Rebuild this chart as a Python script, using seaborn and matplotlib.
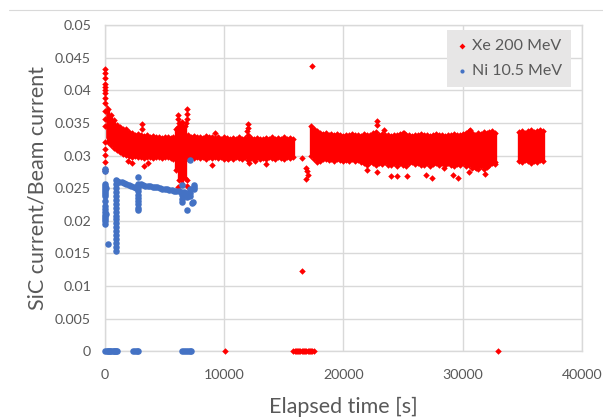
import numpy as np
import pandas as pd
import seaborn as sns
import matplotlib.pyplot as plt
from matplotlib.lines import Line2D

## Xe 200 MeV : envelope of the dense band, read every 250 s (top / bottom)
band_t = [0, 250, 500, 750, 1000, 1250, 1500, 1750, 2000, 2250, 2500, 2750, 3000, 3250, 3500, 3750,
          4000, 4250, 4500, 4750, 5000, 5250, 5500, 5750, 6000, 6250, 6500, 6750, 7000, 7250, 7500, 7750,
          8000, 8250, 8500, 8750, 9000, 9250, 9500, 9750, 10000, 10250, 10500, 10750, 11000, 11250, 11500, 11750,
          12000, 12250, 12500, 12750, 13000, 13250, 13500, 13750, 14000, 14250, 14500, 14750, 15000, 15250, 15500, 15750,
          17250, 17500, 17750, 18000, 18250, 18500, 18750, 19000, 19250, 19500, 19750, 20000, 20250, 20500, 20750,
          21000, 21250, 21500, 21750, 22000, 22250, 22500, 22750, 23000, 23250, 23500, 23750, 24000, 24250, 24500, 24750,
          25000, 25250, 25500, 25750, 26000, 26250, 26500, 26750, 27000, 27250, 27500, 27750, 28000, 28250, 28500, 28750,
          29000, 29250, 29500, 29750, 30000, 30250, 30500, 30750, 31000, 31250, 31500, 31750, 32000, 32250, 32500, 32750,
          34750, 35000, 35250, 35500, 35750, 36000, 36250, 36500, 36750]
band_hi = [0.0376, 0.0371, 0.0362, 0.0354, 0.0347, 0.0343, 0.0341, 0.0337, 0.0336, 0.0334, 0.0332, 0.0333, 0.0331, 0.0330, 0.0331, 0.0329,
           0.0330, 0.0328, 0.0329, 0.0327, 0.0329, 0.0328, 0.0327, 0.0329, 0.0340, 0.0350, 0.0352, 0.0345, 0.0331, 0.0329, 0.0330, 0.0328,
           0.0329, 0.0327, 0.0330, 0.0328, 0.0329, 0.0327, 0.0328, 0.0326, 0.0328, 0.0327, 0.0325, 0.0327, 0.0326, 0.0328, 0.0325, 0.0327,
           0.0332, 0.0327, 0.0325, 0.0327, 0.0326, 0.0325, 0.0327, 0.0326, 0.0328, 0.0325, 0.0327, 0.0326, 0.0328, 0.0325, 0.0327, 0.0326,
           0.0345, 0.0341, 0.0337, 0.0335, 0.0333, 0.0334, 0.0332, 0.0333, 0.0331, 0.0333, 0.0332, 0.0330, 0.0332, 0.0331, 0.0333,
           0.0331, 0.0332, 0.0330, 0.0333, 0.0331, 0.0332, 0.0334, 0.0336, 0.0332, 0.0333, 0.0331, 0.0332, 0.0330, 0.0332, 0.0331, 0.0333,
           0.0334, 0.0331, 0.0332, 0.0330, 0.0332, 0.0331, 0.0333, 0.0331, 0.0332, 0.0330, 0.0332, 0.0333, 0.0331, 0.0332, 0.0330, 0.0332,
           0.0331, 0.0333, 0.0332, 0.0331, 0.0333, 0.0335, 0.0338, 0.0334, 0.0332, 0.0335, 0.0333, 0.0336, 0.0334, 0.0336, 0.0337, 0.0335,
           0.0336, 0.0338, 0.0335, 0.0337, 0.0339, 0.0336, 0.0338, 0.0339, 0.0337]
band_lo = [0.0330, 0.0321, 0.0316, 0.0312, 0.0308, 0.0305, 0.0303, 0.0301, 0.0300, 0.0297, 0.0299, 0.0297, 0.0298, 0.0296, 0.0298, 0.0297,
           0.0296, 0.0298, 0.0297, 0.0296, 0.0298, 0.0297, 0.0296, 0.0295, 0.0278, 0.0262, 0.0256, 0.0266, 0.0294, 0.0297, 0.0296, 0.0298,
           0.0296, 0.0297, 0.0295, 0.0297, 0.0296, 0.0298, 0.0296, 0.0297, 0.0295, 0.0296, 0.0298, 0.0295, 0.0297, 0.0296, 0.0294, 0.0297,
           0.0293, 0.0296, 0.0295, 0.0297, 0.0295, 0.0296, 0.0294, 0.0297, 0.0296, 0.0295, 0.0297, 0.0296, 0.0295, 0.0297, 0.0296, 0.0297,
           0.0300, 0.0294, 0.0290, 0.0292, 0.0294, 0.0295, 0.0293, 0.0294, 0.0292, 0.0294, 0.0293, 0.0291, 0.0293, 0.0292, 0.0294,
           0.0291, 0.0293, 0.0290, 0.0289, 0.0286, 0.0290, 0.0288, 0.0285, 0.0289, 0.0287, 0.0290, 0.0286, 0.0285, 0.0288, 0.0284, 0.0289,
           0.0286, 0.0284, 0.0288, 0.0290, 0.0287, 0.0289, 0.0286, 0.0285, 0.0288, 0.0284, 0.0287, 0.0289, 0.0286, 0.0288, 0.0285, 0.0289,
           0.0286, 0.0284, 0.0287, 0.0285, 0.0288, 0.0284, 0.0286, 0.0281, 0.0283, 0.0280, 0.0284, 0.0279, 0.0283, 0.0285, 0.0288, 0.0287,
           0.0292, 0.0290, 0.0293, 0.0291, 0.0288, 0.0292, 0.0290, 0.0293, 0.0292]

## Xe 200 MeV : single points outside the band
xe_t = [0, 0, 0, 0, 0, 0, 0, 0, 0, 0, 0, 0, 0, 0, 0, 0, 0, 0,
        6100, 6100, 6100, 6850, 6850, 6850, 6800, 6100, 6850, 6900,
        1750, 3100, 3100, 9200, 2250, 3250, 3600, 1900, 9000, 10300, 12100, 12600, 13500, 12000, 12000, 11950,
        16550, 16900, 16950, 17000, 16900, 16550, 17400,
        22800, 22800, 23400, 25100, 30600, 22000, 22800, 24000, 24500, 25300, 26900, 27400, 29200, 29600,
        28400, 30500, 31100, 31900, 32700,
        10100, 15800, 15900, 16000, 16100, 16200, 16300, 16400, 16500, 16600, 16700, 16800, 16900, 17000,
        17100, 17200, 17300, 17400, 17500, 33000]
xe_v = [0.0432, 0.0427, 0.0419, 0.0410, 0.0405, 0.0401, 0.0396, 0.0388, 0.0381, 0.0368, 0.0356, 0.0345,
        0.0320, 0.0310, 0.0301, 0.0290, 0.0280, 0.0276,
        0.0362, 0.0356, 0.0344, 0.0371, 0.0364, 0.0356, 0.0350, 0.0252, 0.0254, 0.0262,
        0.0340, 0.0348, 0.0341, 0.0334, 0.0288, 0.0284, 0.0288, 0.0292, 0.0285, 0.0294, 0.0288, 0.0291, 0.0287,
        0.0348, 0.0342, 0.0337,
        0.0296, 0.0281, 0.0276, 0.0270, 0.0264, 0.0123, 0.0437,
        0.0353, 0.0347, 0.0339, 0.0334, 0.0339, 0.0278, 0.0275, 0.0268, 0.0268, 0.0268, 0.0270, 0.0266, 0.0270,
        0.0266, 0.0281, 0.0275, 0.0281, 0.0272, 0.0290,
        0, 0, 0, 0, 0, 0, 0, 0, 0, 0, 0, 0, 0, 0, 0, 0, 0, 0, 0, 0]

## Ni 10.5 MeV
ni_t = [0, 0, 0, 0, 0, 0, 0, 0, 0, 0, 0, 0, 0, 0, 0, 0, 0, 0, 250, 100, 100,
        920, 920, 920, 920, 920, 920, 920, 920, 920, 920, 920, 920, 920, 920, 920, 920, 920, 920, 920,
        1000, 1200, 1400, 1600, 1800, 2000, 2200, 2400, 2600, 2800, 3000, 3200, 3400, 3600, 3800, 4000,
        4200, 4400, 4600, 4800, 5000, 5200, 5400, 5600, 5800, 6000, 6200, 6400, 6600,
        2750, 2750, 2750, 2750, 2750, 2750, 2750, 2750, 2750, 2750,
        6500, 6500, 6500, 6500, 6850, 6850, 6850, 7100, 7100, 7100, 7100, 7450, 7450, 7450, 7350, 7300,
        0, 150, 250, 350, 450, 550, 650, 750, 850, 950, 1050, 2350, 2500, 2650, 2800,
        6500, 6650, 6800, 6950, 7100, 7250]
ni_v = [0.0279, 0.0277, 0.0256, 0.0253, 0.0250, 0.0247, 0.0244, 0.0241, 0.0238, 0.0231, 0.0222, 0.0218,
        0.0213, 0.0209, 0.0206, 0.0202, 0.0199, 0.0195, 0.0164, 0.0250, 0.0210,
        0.0262, 0.0256, 0.0250, 0.0244, 0.0238, 0.0232, 0.0226, 0.0220, 0.0214, 0.0208, 0.0202, 0.0196,
        0.0190, 0.0184, 0.0178, 0.0172, 0.0166, 0.0160, 0.0154,
        0.0261, 0.0260, 0.0259, 0.0258, 0.0257, 0.0255, 0.0253, 0.0251, 0.0250, 0.0257, 0.0256, 0.0255,
        0.0254, 0.0253, 0.0253, 0.0252, 0.0251, 0.0251, 0.0250, 0.0249, 0.0249, 0.0248, 0.0247, 0.0247,
        0.0246, 0.0246, 0.0245, 0.0244, 0.0244,
        0.0267, 0.0255, 0.0250, 0.0245, 0.0240, 0.0235, 0.0230, 0.0225, 0.0220, 0.0216,
        0.0255, 0.0239, 0.0234, 0.0229, 0.0242, 0.0236, 0.0216, 0.0248, 0.0243, 0.0238, 0.0293,
        0.0255, 0.0252, 0.0249, 0.0229, 0.0227,
        0, 0, 0, 0, 0, 0, 0, 0, 0, 0, 0, 0, 0, 0, 0, 0, 0, 0, 0, 0, 0]

x_ticks = [0, 10000, 20000, 30000, 40000]
y_ticks = [0, 0.005, 0.01, 0.015, 0.02, 0.025, 0.03, 0.035, 0.04, 0.045, 0.05]
y_labels = ['0', '0.005', '0.01', '0.015', '0.02', '0.025', '0.03', '0.035', '0.04', '0.045', '0.05']

sns.set_theme(style='white')
plt.rcParams['font.family'] = ['Lato', 'DejaVu Sans']

red = '#ff0000'
blue = '#4472c4'
grey_txt = '#595959'
grid_c = '#d9d9d9'

fig, ax = plt.subplots(figsize=(6.03, 4.19), dpi=100)
fig.subplots_adjust(left=0.174, right=0.965, top=0.940, bottom=0.162)

# dense band : vertical strokes between bottom and top, diamonds at the edges
ax.vlines(band_t, band_lo, band_hi, color=red, linewidth=2.4, zorder=2)
df_band = pd.DataFrame({'t': band_t + band_t, 'v': band_hi + band_lo})
sns.scatterplot(data=df_band, x='t', y='v', marker='D', s=11, color=red, linewidth=0, ax=ax, zorder=2)

df_xe = pd.DataFrame({'t': xe_t, 'v': xe_v})
sns.scatterplot(data=df_xe, x='t', y='v', marker='D', s=11, color=red, linewidth=0, ax=ax,
                label='Xe 200 MeV', zorder=3, clip_on=False)
df_ni = pd.DataFrame({'t': ni_t, 'v': ni_v})
sns.scatterplot(data=df_ni, x='t', y='v', marker='o', s=22, color=blue, linewidth=0, ax=ax,
                label='Ni 10.5 MeV', zorder=4, clip_on=False)

ax.set_xlim(0, 40000)
ax.set_ylim(0, 0.05)
ax.set_xticks(x_ticks)
ax.set_xticklabels([str(t) for t in x_ticks])
ax.set_yticks(y_ticks)
ax.set_yticklabels(y_labels)
ax.grid(True, color=grid_c, linewidth=1)
ax.set_axisbelow(True)
for s in ax.spines.values():
    s.set_color(grid_c)
    s.set_linewidth(1)
ax.tick_params(length=0, colors=grey_txt, labelsize=10.2)
ax.tick_params(axis='x', pad=13)
ax.tick_params(axis='y', pad=10)

ax.set_xlabel('Elapsed time [s]', fontsize=15.5, color=grey_txt, labelpad=11)
ax.set_ylabel('SiC current/Beam current', fontsize=15.5, color=grey_txt, labelpad=5)

leg = ax.legend(loc='upper right', bbox_to_anchor=(0.977, 0.985), frameon=True, fancybox=False,
                facecolor='#e7e6e6', edgecolor='none', framealpha=1, fontsize=11.5,
                labelcolor=grey_txt, handletextpad=0.2, borderpad=0.55, labelspacing=0.7,
                handlelength=0.8, borderaxespad=0)
for h in leg.legend_handles:
    h.set_sizes([9])

fig.add_artist(Line2D([0.015, 1.0], [1 - 10 / 419, 1 - 10 / 419], color=grid_c, linewidth=0.8))

plt.savefig('out.png', dpi=100)
